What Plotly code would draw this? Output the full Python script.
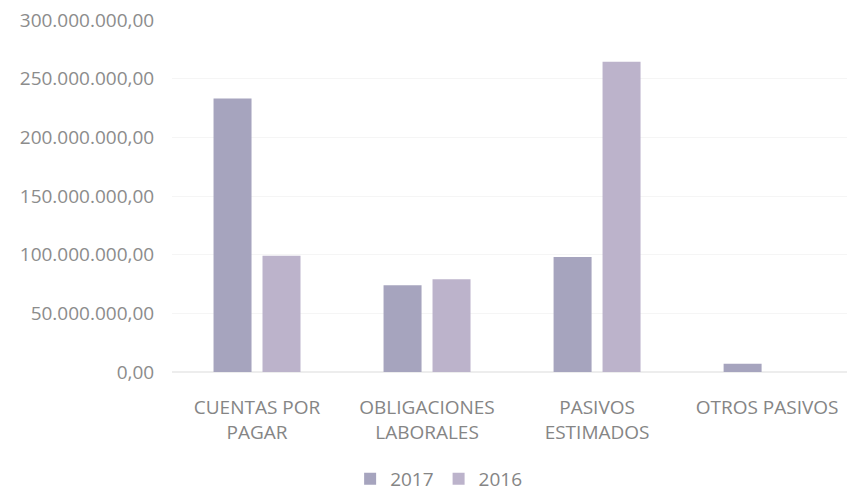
import plotly.graph_objects as go

categories = ["CUENTAS POR<br>PAGAR", "OBLIGACIONES<br>LABORALES", "PASIVOS<br>ESTIMADOS", "OTROS PASIVOS"]
values_2017 = [233_000_000, 74_000_000, 98_000_000, 7_000_000]
values_2016 = [99_000_000, 79_000_000, 264_500_000, 0]
tick_vals = [0, 50_000_000, 100_000_000, 150_000_000, 200_000_000, 250_000_000, 300_000_000]
tick_text = ["0,00", "50.000.000,00", "100.000.000,00", "150.000.000,00",
             "200.000.000,00", "250.000.000,00", "300.000.000,00"]

fig = go.Figure()
fig.add_trace(go.Bar(name="2017", x=categories, y=values_2017, marker_color="#a6a4be",
                     marker_line_width=0))
fig.add_trace(go.Bar(name="2016", x=categories, y=values_2016, marker_color="#bcb3cb",
                     marker_line_width=0))

font_main = "Open Sans, DejaVu Sans, sans-serif"

fig.update_layout(
    width=847, height=498,
    margin=dict(l=172, r=0, t=20, b=116),
    paper_bgcolor="white", plot_bgcolor="white",
    barmode="group", bargap=0.424, bargroupgap=0.224,
    showlegend=True,
    legend=dict(orientation="h", x=0.395, xanchor="center", y=-0.305, yanchor="middle",
                font=dict(family=font_main, size=19, color="#858585"),
                itemwidth=30, traceorder="normal"),
    xaxis=dict(range=[-0.5, 3.47], showgrid=False, zeroline=False, showline=False,
               ticks="outside", ticklen=18, tickcolor="rgba(0,0,0,0)",
               tickfont=dict(family=font_main, size=19, color="#858585")),
    yaxis=dict(range=[0, 300_000_000], tickvals=tick_vals, ticktext=tick_text,
               showgrid=True, gridcolor="#f5f5f5", zeroline=True, zerolinecolor="#ededed",
               showline=False, ticks="outside", ticklen=13, tickcolor="rgba(0,0,0,0)",
               tickfont=dict(family=font_main, size=19, color="#8c8c8c")),
)

fig.write_html("out.html")
